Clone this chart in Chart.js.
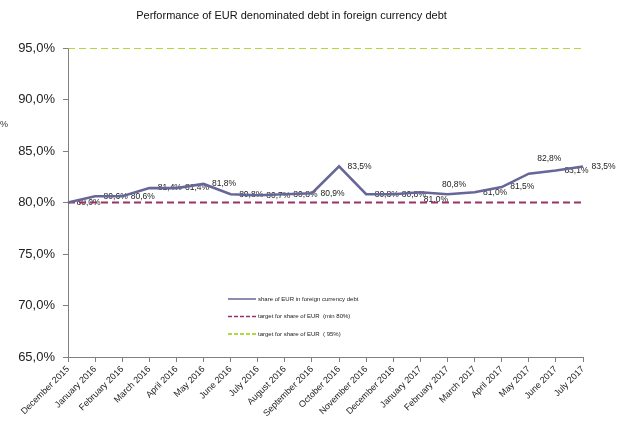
<!DOCTYPE html>
<html>
<head>
<meta charset="utf-8">
<script src="https://cdn.jsdelivr.net/npm/chart.js@4"></script>
<style>
html, body { margin: 0; padding: 0; background: #fff; }
</style>
</head>
<body>
<canvas id="line-chart" width="629" height="421"></canvas>
<script>
var months = ['December 2015', 'January 2016', 'February 2016', 'March 2016', 'April 2016', 'May 2016',
    'June 2016', 'July 2016', 'August 2016', 'September 2016', 'October 2016', 'November 2016',
    'December 2016', 'January 2017', 'February 2017', 'March 2017', 'April 2017', 'May 2017',
    'June 2017', 'July 2017']
var shareEur = [80.0, 80.6, 80.6, 81.4, 81.4, 81.8, 80.8, 80.7, 80.8, 80.9, 83.5, 80.8, 80.8, 81.0, 80.8, 81.0, 81.5, 82.8, 83.1, 83.5]
var targetMin = [80, 80, 80, 80, 80, 80, 80, 80, 80, 80, 80, 80, 80, 80, 80, 80, 80, 80, 80, 80]
var target95 = [95, 95, 95, 95, 95, 95, 95, 95, 95, 95, 95, 95, 95, 95, 95, 95, 95, 95, 95, 95]

var font = '"Liberation Sans", Arial, sans-serif'
var labelNudge = {13: [-5, 7], 14: [-14, -10], 17: [0, -15]}

function pct(v) {
    return v.toFixed(1).replace('.', ',') + '%'
}

var extras = {
    id: 'extras',
    beforeDatasetsDraw: function(chart) {
        var ctx = chart.ctx
        var meta = chart.getDatasetMeta(0)
        ctx.save()
        ctx.font = '8.5px ' + font
        ctx.fillStyle = '#222'
        ctx.textAlign = 'left'
        ctx.textBaseline = 'middle'
        meta.data.forEach(function(pt, i) {
            var n = labelNudge[i] || [0, 0]
            ctx.fillText(pct(shareEur[i]), pt.x + 8.5 + n[0], pt.y + n[1])
        })
        ctx.restore()
    },
    afterDraw: function(chart) {
        var ctx = chart.ctx
        ctx.save()
        // legend inside the plot
        var y = 299
        chart.data.datasets.forEach(function(ds) {
            ctx.beginPath()
            ctx.strokeStyle = ds.borderColor
            ctx.lineWidth = 1.5
            ctx.setLineDash(ds.borderDash ? [4, 2] : [])
            ctx.moveTo(228, y)
            ctx.lineTo(256, y)
            ctx.stroke()
            ctx.setLineDash([])
            ctx.font = '6px ' + font
            ctx.fillStyle = '#222'
            ctx.textBaseline = 'middle'
            ctx.fillText(ds.label, 258, y)
            y += 17.5
        })
        // cut off axis title
        ctx.font = '9px ' + font
        ctx.fillStyle = '#333'
        ctx.fillText('%', 0, 125)
        ctx.restore()
    }
}

new Chart(document.getElementById('line-chart'), {
    type: 'line',
    data: {
        labels: months,
        datasets: [{
            label: 'share of EUR in foreign currency debt',
            data: shareEur,
            borderColor: '#666699',
            borderWidth: 2.6,
            pointRadius: 0,
            tension: 0,
            fill: false
        },
        {
            label: 'target for share of EUR  (min 80%)',
            data: targetMin,
            borderColor: '#993366',
            borderWidth: 2,
            borderDash: [7, 4],
            pointRadius: 0,
            fill: false
        },
        {
            label: 'target for share of EUR  ( 95%)',
            data: target95,
            borderColor: '#99CC00',
            borderWidth: 1.6,
            borderDash: [7, 4],
            pointRadius: 0,
            fill: false
        }]
    },
    options: {
        responsive: false,
        animation: false,
        devicePixelRatio: 1,
        layout: {
            padding: {left: 0, right: 46, top: 0, bottom: 0}
        },
        plugins: {
            legend: {display: false},
            tooltip: {enabled: false},
            title: {
                display: true,
                text: 'Performance of EUR denominated debt in foreign currency debt',
                color: '#111',
                font: {family: font, size: 11, weight: 'normal', lineHeight: 1.2},
                padding: {top: 9, bottom: 25.8}
            }
        },
        scales: {
            x: {
                offset: false,
                grid: {drawOnChartArea: false, drawTicks: true, tickLength: 5, color: '#808080', offset: false},
                border: {color: '#808080', width: 1},
                ticks: {
                    autoSkip: false,
                    minRotation: 45,
                    maxRotation: 45,
                    padding: 2,
                    color: '#222',
                    font: {family: font, size: 9}
                },
                afterFit: function(scale) {
                    scale.height = 64
                }
            },
            y: {
                min: 65,
                max: 95,
                grid: {drawOnChartArea: false, drawTicks: true, tickLength: 5, color: '#808080'},
                border: {color: '#808080', width: 1},
                ticks: {
                    stepSize: 5,
                    padding: 8,
                    color: '#222',
                    font: {family: font, size: 13},
                    callback: function(v) { return pct(v) }
                },
                afterFit: function(scale) {
                    scale.width = 68
                }
            }
        }
    },
    plugins: [extras]
});
</script>
</body>
</html>
